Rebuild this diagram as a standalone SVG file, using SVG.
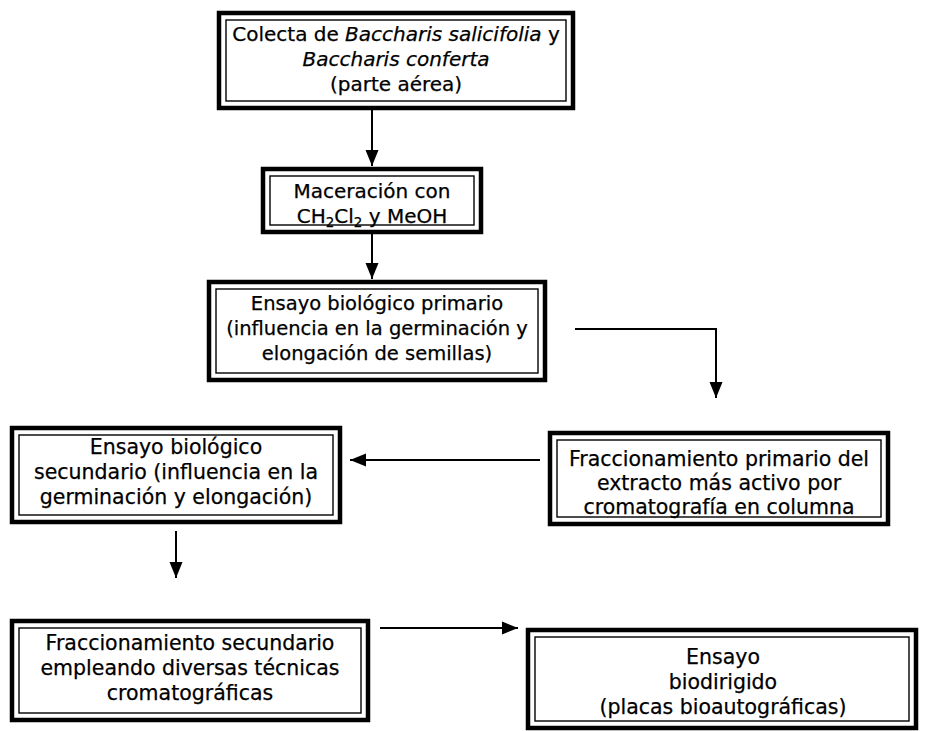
<svg xmlns="http://www.w3.org/2000/svg" width="931" height="731" viewBox="0 0 931 731">
<defs>
<style>
.o{fill:#fff;stroke:#000;stroke-width:4.5}
.i{fill:none;stroke:#000;stroke-width:1.4}
.t{font-family:"DejaVu Sans","Verdana",sans-serif;font-size:20px;fill:#000;stroke:#000;stroke-width:0.25;text-anchor:middle}
.b{font-size:20.5px}
.s{font-size:19.5px}
.c{fill:none;stroke:#000;stroke-width:2}
</style>
<marker id="ah" markerUnits="userSpaceOnUse" markerWidth="16" markerHeight="16" viewBox="0 0 16 16" refX="16" refY="8" orient="auto">
<path d="M0,1.5 L16,8 L0,14.5 Z" fill="#000"/>
</marker>
</defs>
<rect width="931" height="731" fill="#fff"/>
<g id="connectors">
<path class="c" d="M372,110 V166" marker-end="url(#ah)"/>
<path class="c" d="M372,234 V279" marker-end="url(#ah)"/>
<path class="c" d="M575,329 H716 V398" marker-end="url(#ah)"/>
<path class="c" d="M540,460 H350" marker-end="url(#ah)"/>
<path class="c" d="M176,531 V578" marker-end="url(#ah)"/>
<path class="c" d="M380,628 H518" marker-end="url(#ah)"/>
</g>
<g id="n1">
<rect class="o" x="219" y="13" width="354" height="95"/>
<rect class="i" x="226" y="20" width="340" height="81"/>
<text class="t" x="396" y="41">Colecta de <tspan font-style="italic">Baccharis salicifolia</tspan> y</text>
<text class="t" x="396" y="66" font-style="italic">Baccharis conferta</text>
<text class="t" x="396" y="91">(parte aérea)</text>
</g>
<g id="n2">
<rect class="o" x="263" y="169" width="218" height="63"/>
<rect class="i" x="270" y="176" width="204" height="49"/>
<text class="t" x="372" y="198">Maceración con</text>
<text class="t" x="372" y="223">CH<tspan font-size="13.5" dy="4">2</tspan><tspan dy="-4">Cl</tspan><tspan font-size="13.5" dy="4">2</tspan><tspan dy="-4"> y MeOH</tspan></text>
</g>
<g id="n3">
<rect class="o" x="209" y="282" width="336" height="98"/>
<rect class="i" x="216" y="289" width="322" height="84"/>
<text class="t s" x="377" y="310">Ensayo biológico primario</text>
<text class="t s" x="377" y="335">(influencia en la germinación y</text>
<text class="t s" x="377" y="360">elongación de semillas)</text>
</g>
<g id="n4">
<rect class="o" x="12" y="428" width="328" height="94"/>
<rect class="i" x="19" y="435" width="314" height="80"/>
<text class="t b" x="176" y="454">Ensayo biológico</text>
<text class="t b" x="176" y="479">secundario (influencia en la</text>
<text class="t b" x="176" y="504">germinación y elongación)</text>
</g>
<g id="n5">
<rect class="o" x="550" y="433" width="338" height="91"/>
<rect class="i" x="557" y="440" width="324" height="77"/>
<text class="t b" x="719" y="466">Fraccionamiento primario del</text>
<text class="t b" x="719" y="490">extracto más activo por</text>
<text class="t b" x="719" y="514">cromatografía en columna</text>
</g>
<g id="n6">
<rect class="o" x="12" y="621" width="356" height="99"/>
<rect class="i" x="19" y="628" width="342" height="85"/>
<text class="t b" x="190" y="650">Fraccionamiento secundario</text>
<text class="t b" x="190" y="675">empleando diversas técnicas</text>
<text class="t b" x="190" y="700">cromatográficas</text>
</g>
<g id="n7">
<rect class="o" x="528" y="630" width="388" height="98"/>
<rect class="i" x="535" y="637" width="374" height="84"/>
<text class="t b" x="723" y="664">Ensayo</text>
<text class="t b" x="723" y="689">biodirigido</text>
<text class="t b" x="723" y="714">(placas bioautográficas)</text>
</g>
</svg>
